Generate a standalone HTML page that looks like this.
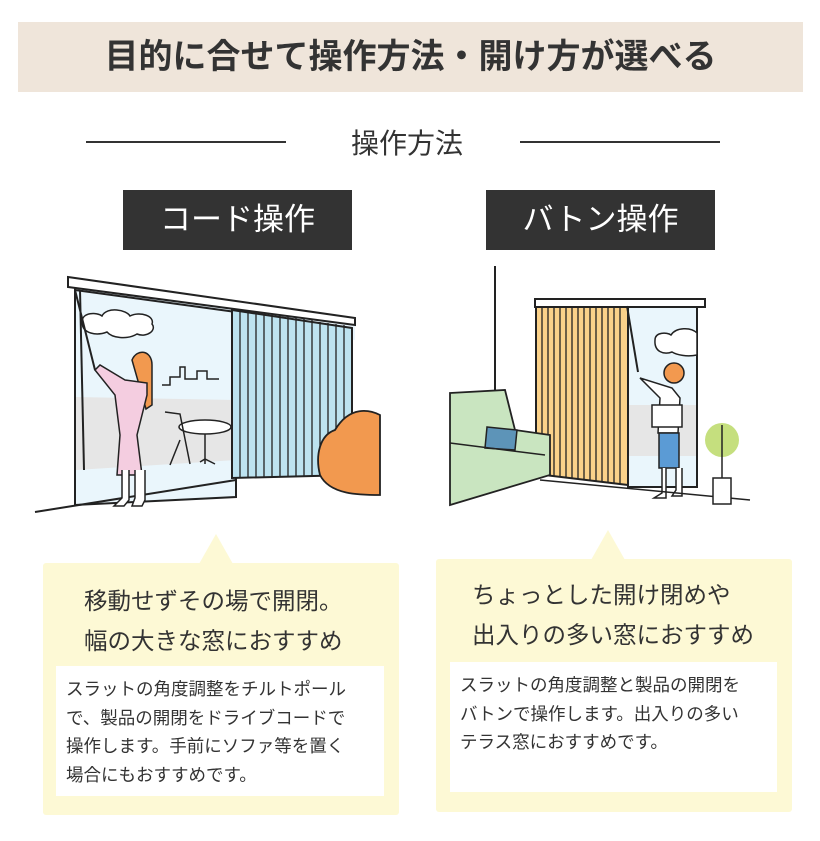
<!DOCTYPE html>
<html><head><meta charset="utf-8"><style>
body{margin:0;width:820px;height:841px;background:#fff;position:relative;overflow:hidden;font-family:"Liberation Sans","Noto Sans CJK JP",sans-serif;color:#333}
.a{position:absolute}
.band{left:18px;top:22px;width:785px;height:70px;background:#efe5da;text-align:center;line-height:70px;font-size:34px;font-weight:600;color:#333;letter-spacing:0px}
.lbl{background:#333;color:#fff;font-size:31px;text-align:center;line-height:60px;width:229px;height:60px;top:190px}
.bub{background:#fdf9d5}
.box{background:#fff;font-size:17.5px;line-height:28.5px;padding:9px 0 0 10px;box-sizing:border-box;white-space:nowrap}
.big{font-size:23.5px;line-height:40px;white-space:nowrap}
</style></head><body>
<div class="a band">目的に合せて操作方法・開け方が選べる</div>
<div class="a" style="left:86px;top:141px;width:200px;height:2px;background:#333"></div>
<div class="a" style="left:520px;top:141px;width:200px;height:2px;background:#333"></div>
<div class="a" style="left:330px;top:122px;width:154px;text-align:center;font-size:28px">操作方法</div>
<div class="a lbl" style="left:123px">コード操作</div>
<div class="a lbl" style="left:486px">バトン操作</div>

<svg class="a" style="left:0;top:0" width="820" height="841">
<g stroke="#222" stroke-width="2" fill="none">
<polygon points="75,285 355,323 355,340 75,300" fill="#e9f5fc" stroke="none"/>
<polygon points="75,290 236,312 236,497 75,505" fill="#eaf6fc"/>
<polygon points="76,397 236,400 236,460 76,470" fill="#e6e6e6" stroke="none"/>
<polygon points="68,277 355,318 355,325 68,287" fill="#fff"/>
<line x1="75" y1="287" x2="75" y2="505"/>
<line x1="35" y1="512" x2="236" y2="480"/>
<polygon points="232,310 352,328 352,475 232,478" fill="#bde3f0"/>
<g stroke-width="1.3"><line x1="240" y1="311" x2="240" y2="478"/><line x1="248" y1="312" x2="248" y2="478"/><line x1="256" y1="313" x2="256" y2="478"/><line x1="264" y1="314" x2="264" y2="477"/><line x1="272" y1="315" x2="272" y2="477"/><line x1="280" y1="316" x2="280" y2="477"/><line x1="288" y1="317" x2="288" y2="477"/><line x1="296" y1="318" x2="296" y2="476"/><line x1="304" y1="319" x2="304" y2="476"/><line x1="312" y1="320" x2="312" y2="476"/><line x1="320" y1="322" x2="320" y2="475"/><line x1="328" y1="323" x2="328" y2="475"/><line x1="336" y1="324" x2="336" y2="475"/><line x1="344" y1="325" x2="344" y2="475"/></g>
<path d="M82,322 c0,-10 15,-10 20,-6 c5,-10 25,-6 28,0 c10,-5 25,0 22,8 c5,6 -5,14 -15,10 c-10,6 -25,4 -30,-2 c-10,4 -25,2 -25,-10z" fill="#fff" stroke-width="1.5"/>
<path d="M162,385 h8 v-8 h10 v-10 h5 v12 h12 v-8 h10 v8 h12" stroke-width="1.5"/>
<line x1="75" y1="290" x2="95" y2="370"/><line x1="80" y1="290" x2="84" y2="470"/>
<path d="M320,475 c-5,-20 0,-40 15,-45 c15,-25 35,-20 45,-15 v80 c-20,0 -50,0 -60,-20z" fill="#f2994f" stroke-width="1.8"/>
<ellipse cx="205" cy="427" rx="26" ry="7" fill="#fff" stroke-width="1.5"/>
<path d="M165,412 l15,2 l10,50 M180,440 l-10,25 M205,434 v30 M200,462 l5,-3 l10,5" stroke-width="1.5"/>
<path d="M132,360 c5,-12 20,-10 20,5 v40 l-6,4 z" fill="#f2994f" stroke-width="1.5"/>
<path d="M125,380 l-25,-15 l-5,5 l20,25 l5,40 l-3,40 h25 l-5,-40 l10,-40 v-12 z" fill="#f4cde0" stroke-width="1.5"/>
<path d="M122,470 v28 l-8,8 h10 l5,-6 v-30 M135,470 v28 l-3,8 h10 l3,-6 v-30" fill="#fff" stroke-width="1.5"/>
</g>
<g stroke="#222" stroke-width="2" fill="none">
<line x1="495" y1="266" x2="495" y2="392"/>
<polygon points="628,302 697,302 697,487 628,487" fill="#eaf6fc"/>
<polygon points="629,405 696,405 696,456 629,456" fill="#e6e6e6" stroke="none"/>
<rect x="535" y="299" width="170" height="8" fill="#fff"/>
<polygon points="536,307 628,307 628,485 536,474" fill="#fbd28a"/>
<g stroke-width="1.3"><line x1="542" y1="307" x2="542" y2="475"/><line x1="548" y1="307" x2="548" y2="476"/><line x1="554" y1="307" x2="554" y2="477"/><line x1="560" y1="307" x2="560" y2="477"/><line x1="566" y1="307" x2="566" y2="478"/><line x1="572" y1="307" x2="572" y2="478"/><line x1="578" y1="307" x2="578" y2="479"/><line x1="584" y1="307" x2="584" y2="480"/><line x1="590" y1="307" x2="590" y2="481"/><line x1="596" y1="307" x2="596" y2="481"/><line x1="602" y1="307" x2="602" y2="482"/><line x1="608" y1="307" x2="608" y2="483"/><line x1="614" y1="307" x2="614" y2="484"/><line x1="620" y1="307" x2="620" y2="485"/></g>
<path d="M655,340 c0,-8 12,-8 16,-5 c5,-8 20,-8 26,-2 v22 c-10,2 -20,0 -25,-3 c-8,3 -18,0 -17,-12z" fill="#fff" stroke-width="1.5"/>
<line x1="627" y1="306" x2="638" y2="372"/>
<circle cx="674" cy="373" r="10" fill="#f2994f" stroke-width="1.5"/>
<path d="M640,378 l20,20 l-2,35 h20 l2,-35 l-8,-10 z" fill="#fff" stroke-width="1.5"/>
<rect x="652" y="405" width="30" height="22" fill="#fff" stroke-width="1.5"/>
<path d="M659,433 v35 h20 v-35 z" fill="#5b9bd5" stroke-width="1.5"/>
<path d="M662,468 v25 l-8,5 h12 v-30 M676,468 v22 l-4,6 h10 v-28" fill="#fff" stroke-width="1.5"/>
<path d="M450,393 l55,-3 l10,40 l35,5 l0,40 l-100,30 z" fill="#c9e5c0" stroke-width="1.8"/>
<path d="M487,427 l30,3 l-2,20 l-30,-2 z" fill="#5d94b8" stroke-width="1.5"/>
<line x1="450" y1="443" x2="545" y2="455" stroke-width="1.5"/>
<line x1="540" y1="480" x2="750" y2="500" stroke-width="1.5"/>
<circle cx="722" cy="440" r="17" fill="#c5df7e" stroke="none"/>
<path d="M722,425 v60" stroke-width="1.5"/>
<rect x="713" y="478" width="18" height="26" fill="#fff" stroke-width="1.5"/>
</g>
<polygon points="199,564 216,534 233,564" fill="#fdf9d5"/>
<polygon points="591,560 608,530 625,560" fill="#fdf9d5"/>
</svg>

<div class="a bub" style="left:43px;top:563px;width:356px;height:252px;border-radius:3px"></div>
<div class="a big" style="left:84px;top:581px">移動せずその場で開閉。<br>幅の大きな窓におすすめ</div>
<div class="a box" style="left:56px;top:666px;width:328px;height:130px">スラットの角度調整をチルトポール<br>で、製品の開閉をドライブコードで<br>操作します。手前にソファ等を置く<br>場合にもおすすめです。</div>

<div class="a bub" style="left:436px;top:559px;width:356px;height:253px;border-radius:3px"></div>
<div class="a big" style="left:472px;top:575px">ちょっとした開け閉めや<br>出入りの多い窓におすすめ</div>
<div class="a box" style="left:450px;top:662px;width:327px;height:130px">スラットの角度調整と製品の開閉を<br>バトンで操作します。出入りの多い<br>テラス窓におすすめです。</div>
</body></html>
